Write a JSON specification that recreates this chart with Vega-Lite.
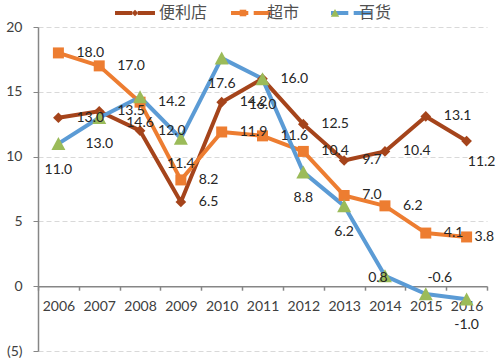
{
  "$schema": "https://vega.github.io/schema/vega-lite/v6.json",
  "width": 449,
  "height": 324,
  "autosize": {"type": "none"},
  "padding": {"left": 38, "top": 27, "right": 13, "bottom": 10},
  "background": "white",
  "config": {
    "view": {"stroke": null},
    "locale": {"number": {"decimal": ".", "thousands": ",", "grouping": [3], "currency": ["", ""], "minus": "-"}},
    "legend": {"labelFont": "Noto Sans CJK SC", "labelFontSize": 16, "labelColor": "#505050", "symbolSize": 1600, "columnPadding": 15, "labelOffset": 4, "padding": 0}
  },
  "data": {
    "values": [
      {"year": "2006", "series": "便利店", "value": 13.0},
      {"year": "2007", "series": "便利店", "value": 13.5},
      {"year": "2008", "series": "便利店", "value": 12.0},
      {"year": "2009", "series": "便利店", "value": 6.5},
      {"year": "2010", "series": "便利店", "value": 14.2},
      {"year": "2011", "series": "便利店", "value": 16.0},
      {"year": "2012", "series": "便利店", "value": 12.5},
      {"year": "2013", "series": "便利店", "value": 9.7},
      {"year": "2014", "series": "便利店", "value": 10.4},
      {"year": "2015", "series": "便利店", "value": 13.1},
      {"year": "2016", "series": "便利店", "value": 11.2},
      {"year": "2006", "series": "超市", "value": 18.0},
      {"year": "2007", "series": "超市", "value": 17.0},
      {"year": "2008", "series": "超市", "value": 14.2},
      {"year": "2009", "series": "超市", "value": 8.2},
      {"year": "2010", "series": "超市", "value": 11.9},
      {"year": "2011", "series": "超市", "value": 11.6},
      {"year": "2012", "series": "超市", "value": 10.4},
      {"year": "2013", "series": "超市", "value": 7.0},
      {"year": "2014", "series": "超市", "value": 6.2},
      {"year": "2015", "series": "超市", "value": 4.1},
      {"year": "2016", "series": "超市", "value": 3.8},
      {"year": "2006", "series": "百货", "value": 11.0},
      {"year": "2007", "series": "百货", "value": 13.0},
      {"year": "2008", "series": "百货", "value": 14.6},
      {"year": "2009", "series": "百货", "value": 11.4},
      {"year": "2010", "series": "百货", "value": 17.6},
      {"year": "2011", "series": "百货", "value": 16.0},
      {"year": "2012", "series": "百货", "value": 8.8},
      {"year": "2013", "series": "百货", "value": 6.2},
      {"year": "2014", "series": "百货", "value": 0.8},
      {"year": "2015", "series": "百货", "value": -0.6},
      {"year": "2016", "series": "百货", "value": -1.0}
    ]
  },
  "encoding": {
    "x": {
      "field": "year", "type": "nominal",
      "scale": {"type": "band", "paddingInner": 0, "paddingOuter": 0},
      "axis": {"title": null, "orient": "bottom", "offset": -64.8, "tickBand": "extent", "labelAngle": 0, "grid": false,
        "domainColor": "#868686", "domainWidth": 1.5, "tickColor": "#868686", "tickSize": 4, "tickWidth": 1.5,
        "labelFont": "Lato", "labelFontSize": 14, "labelColor": "#404040", "labelPadding": 9}
    },
    "y": {
      "field": "value", "type": "quantitative",
      "scale": {"domain": [-5, 20], "nice": false, "zero": false},
      "axis": {"title": null, "values": [-5, 0, 5, 10, 15, 20], "grid": true, "gridDash": [5, 3], "gridColor": "#d9d9d9", "gridWidth": 1,
        "domainColor": "#868686", "domainWidth": 1.5, "tickColor": "#868686", "tickSize": 5, "labelPadding": 11,
        "labelFont": "Lato", "labelFontSize": 14, "labelColor": "#404040",
        "labelExpr": "datum.value < 0 ? '(' + format(-datum.value, 'd') + ')' : datum.label"}
    }
  },
  "layer": [
    {
      "mark": {"type": "line", "strokeWidth": 4, "strokeJoin": "round", "strokeCap": "round"},
      "encoding": {
        "stroke": {"field": "series", "type": "nominal", "title": null, "sort": ["便利店", "超市", "百货"],
          "scale": {"range": ["#A5441B", "#ED7D31", "#5B9BD5"]},
          "legend": {"orient": "none", "legendX": 77, "legendY": -34, "direction": "horizontal", "symbolSize": 1296, "symbolType": "M-1.11,0H-0.15M0.15,0H1.11", "symbolStrokeWidth": 4, "labelOpacity": 0}}
      }
    },
    {
      "mark": {"type": "point", "filled": true, "opacity": 1, "size": 4444, "strokeWidth": 0},
      "encoding": {
        "fill": {"field": "series", "type": "nominal", "title": null,
          "scale": {"domain": ["便利店", "超市", "百货"], "range": ["#A5441B", "#ED7D31", "#9BBB59"]},
          "legend": {"orient": "none", "legendX": 77, "legendY": -34, "direction": "horizontal", "symbolSize": 1600, "symbolStrokeWidth": 0}},
        "shape": {"field": "series", "type": "nominal", "title": null,
          "scale": {"domain": ["便利店", "超市", "百货"], "range": ["M0,-0.16L0.16,0L0,0.16L-0.16,0Z", "M-0.165,-0.165H0.165V0.165H-0.165Z", "M0,-0.2L0.21,0.19H-0.21Z"]},
          "legend": {"orient": "none", "legendX": 77, "legendY": -34, "direction": "horizontal", "symbolSize": 1600, "symbolStrokeWidth": 0}}
      }
    },
    {
      "transform": [{"filter": "datum.series != '百货' && datum.year != '2016'"}],
      "mark": {"type": "text", "align": "left", "baseline": "middle", "dx": 18, "font": "Lato", "fontSize": 14, "color": "#262626"},
      "encoding": {"text": {"field": "value", "type": "quantitative", "format": ".1f"}}
    },
    {
      "transform": [{"filter": "datum.series == '超市' && datum.year == '2016'"}],
      "mark": {"type": "text", "align": "left", "baseline": "middle", "dx": 8, "font": "Lato", "fontSize": 14, "color": "#262626"},
      "encoding": {"text": {"field": "value", "type": "quantitative", "format": ".1f"}}
    },
    {
      "transform": [{"filter": "datum.series == '便利店' && datum.year == '2016'"}],
      "mark": {"type": "text", "align": "center", "baseline": "middle", "dx": 15, "dy": 21, "font": "Lato", "fontSize": 14, "color": "#262626"},
      "encoding": {"text": {"field": "value", "type": "quantitative", "format": ".1f"}}
    },
    {
      "transform": [{"filter": "datum.series == '百货' && datum.year != '2014' && datum.year != '2015'"}],
      "mark": {"type": "text", "align": "center", "baseline": "middle", "dy": 26, "font": "Lato", "fontSize": 14, "color": "#262626"},
      "encoding": {"text": {"field": "value", "type": "quantitative", "format": ".1f"}}
    },
    {
      "transform": [{"filter": "datum.series == '百货' && datum.year == '2014'"}],
      "mark": {"type": "text", "align": "center", "baseline": "middle", "dx": -7, "dy": 2, "font": "Lato", "fontSize": 14, "color": "#262626"},
      "encoding": {"text": {"field": "value", "type": "quantitative", "format": ".1f"}}
    },
    {
      "transform": [{"filter": "datum.series == '百货' && datum.year == '2015'"}],
      "mark": {"type": "text", "align": "center", "baseline": "middle", "dx": 14, "dy": -16, "font": "Lato", "fontSize": 14, "color": "#262626"},
      "encoding": {"text": {"field": "value", "type": "quantitative", "format": ".1f"}}
    }
  ]
}
